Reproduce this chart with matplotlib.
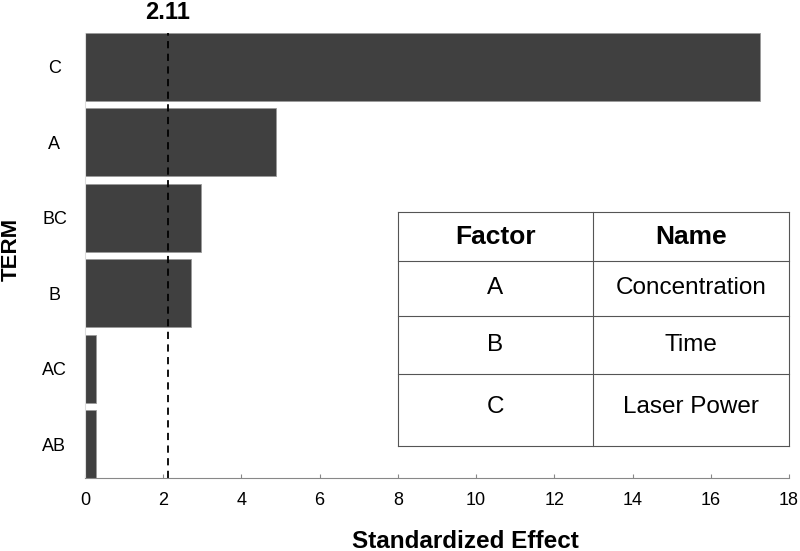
import matplotlib.pyplot as plt
import numpy as np

plt.rcParams['font.family'] = ['Liberation Sans', 'DejaVu Sans']

# pareto of standardized effects
terms = ['AB', 'AC', 'B', 'BC', 'A', 'C']
effects = [0.28, 0.28, 2.72, 2.96, 4.89, 17.26]
t_crit = 2.11

factor_col = ['A', 'B', 'C']
name_col = ['Concentration', 'Time', 'Laser Power']
headers = ['Factor', 'Name']

fig = plt.figure(figsize=(8, 5.51), dpi=100)
ax = fig.add_axes([0.10625, 0.1325, 0.88, 0.8075])

ind = np.arange(len(terms))
ax.barh(ind, effects, height=0.9, color='#404040', edgecolor='#9a9a9a', linewidth=0.6)
ax.axvline(t_crit, color='k', linestyle=(0, (4, 3)), linewidth=1.3)
ax.text(t_crit, 5.64, '%.2f' % t_crit, ha='center', va='baseline', fontsize=17, fontweight='bold',
        transform=ax.transData)

ax.set_xlim(0, 18)
ax.set_ylim(-0.45, 5.45)
ax.set_xticks(np.arange(0, 19, 2))
ax.set_yticks(ind)
ax.set_yticklabels(terms, ha='center')
ax.tick_params(axis='x', direction='in', length=3, color='#888888', labelsize=13, pad=10)
ax.tick_params(axis='y', length=0, labelsize=13, pad=22)
for s in ['top', 'right']:
    ax.spines[s].set_visible(False)
ax.spines['bottom'].set_color('#888888')
ax.spines['left'].set_color('#dddddd')

fig.text(465 / 800, 1 - 541 / 551, 'Standardized Effect', ha='center', va='center',
         fontsize=17.5, fontweight='bold')
fig.text(11 / 800, 1 - 249 / 551, 'TERM', rotation=90, ha='center', va='center',
         fontsize=16, fontweight='bold')

# factor table
tx = fig.add_axes([398 / 800, 1 - 446 / 551, 391 / 800, 234 / 551])
tx.set_xlim(398, 789)
tx.set_ylim(446, 212)
tx.axis('off')
row_edges = [212, 261, 316, 374, 446]
col_edges = [398, 593, 789]
for y in row_edges:
    tx.plot([398, 789], [y, y], color='#555555', linewidth=0.8, clip_on=False)
for x in col_edges:
    tx.plot([x, x], [212, 446], color='#555555', linewidth=0.8, clip_on=False)
cx = [(col_edges[0] + col_edges[1]) / 2, (col_edges[1] + col_edges[2]) / 2]
for j, h in enumerate(headers):
    tx.text(cx[j], (row_edges[0] + row_edges[1]) / 2, h, ha='center', va='center',
            fontsize=19, fontweight='bold')
for i in range(len(factor_col)):
    yc = (row_edges[i + 1] + row_edges[i + 2]) / 2
    if i == len(factor_col) - 1:
        yc = row_edges[i + 1] + 33
    tx.text(cx[0], yc, factor_col[i], ha='center', va='center', fontsize=17.5)
    tx.text(cx[1], yc, name_col[i], ha='center', va='center', fontsize=17.5)

plt.savefig('out.png', dpi=100)
